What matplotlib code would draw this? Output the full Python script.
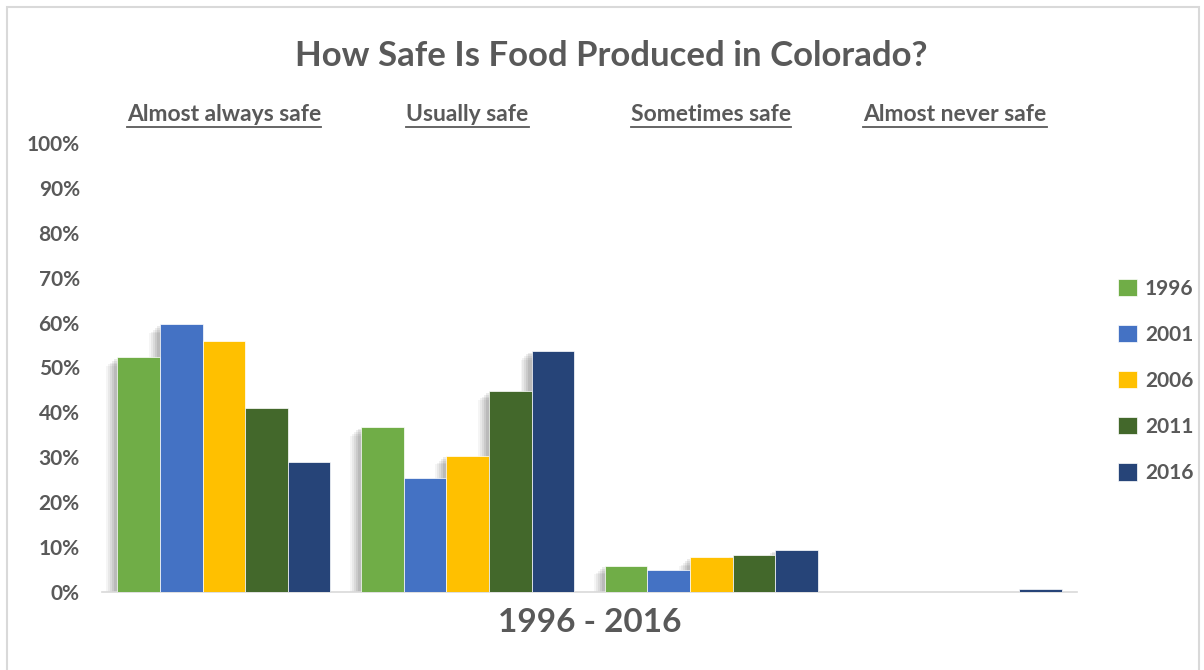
import numpy as np
import matplotlib
matplotlib.use('Agg')
from matplotlib import pyplot as plt
from matplotlib.patches import Rectangle

plt.rcParams['font.family'] = ['Lato', 'DejaVu Sans']

categories = ['Almost always safe', 'Usually safe', 'Sometimes safe', 'Almost never safe']
years = ['1996', '2001', '2006', '2011', '2016']
values = {
    '1996': [52.3, 36.8, 5.9, 0.0],
    '2001': [59.6, 25.5, 5.0, 0.0],
    '2006': [55.8, 30.4, 7.7, 0.0],
    '2011': [40.9, 44.7, 8.3, 0.0],
    '2016': [29.0, 53.7, 9.4, 0.7],
}
colors = ['#70ad47', '#4472c4', '#ffc000', '#43682b', '#264478']
yticks = np.arange(0, 101, 10)

grey = '#595959'

fig = plt.figure(figsize=(12.04, 6.70), dpi=100)
ax = fig.add_axes([0.0847, 0.1164, 0.8098, 0.6702])

n = len(years)
x = np.arange(len(categories))
w = 0.874 / n
for i, yr in enumerate(years):
    pos = x - 0.437 + w * (i + 0.5)
    vals = np.array(values[yr])
    # soft drop shadow to the left
    for k, a in enumerate([0.04, 0.05, 0.06, 0.07, 0.08]):
        off = 0.045 - k * 0.008
        ax.bar(pos - off, np.where(vals > 1, vals - 2 + k * 0.4, 0), w, bottom=0,
               color='black', alpha=a, linewidth=0, zorder=1)
    ax.bar(pos, vals, w, color=colors[i], edgecolor='white', linewidth=0.5,
           label=yr, zorder=3)

ax.set_xlim(-0.5, len(categories) - 0.5)
ax.set_ylim(0, 100)
ax.set_yticks(yticks)
ax.set_yticklabels([f'{t}%' for t in yticks], fontsize=15, color=grey, fontweight='bold')
ax.set_xticks([])
ax.tick_params(axis='y', length=0, pad=16)
for s in ['top', 'right', 'left']:
    ax.spines[s].set_visible(False)
ax.spines['bottom'].set_color('#d9d9d9')
ax.spines['bottom'].set_linewidth(1.2)

fig.text(0.508, 0.917, 'How Safe Is Food Produced in Colorado?', ha='center', va='center',
         fontsize=25, color=grey, fontweight='bold')
fig.text(0.49, 0.071, '1996 - 2016', ha='center', va='center',
         fontsize=24, color=grey, fontweight='bold')

# underlined category headers
fig.canvas.draw()
renderer = fig.canvas.get_renderer()
for i, c in enumerate(categories):
    t = ax.text(i, 106.3, c, ha='center', va='center', fontsize=16.5, color=grey,
                fontweight='bold', transform=ax.transData, clip_on=False)
    bb = t.get_window_extent(renderer).transformed(fig.transFigure.inverted())
    fig.add_artist(plt.Line2D([bb.x0, bb.x1], [bb.y0 - 0.003, bb.y0 - 0.003],
                              color=grey, linewidth=1.3))

leg = ax.legend(loc='center left', bbox_to_anchor=(1.042, 0.47), frameon=False,
                fontsize=15, handlelength=0.9, handleheight=0.9, labelspacing=1.25,
                handletextpad=0.4, borderaxespad=0, borderpad=0)
for txt in leg.get_texts():
    txt.set_color(grey)
    txt.set_fontweight('bold')

fig.add_artist(Rectangle((0.006, -0.01), 0.99, 1.0, transform=fig.transFigure,
                         fill=False, edgecolor='#d9d9d9', linewidth=1.5))

fig.savefig('out.png', dpi=100)
